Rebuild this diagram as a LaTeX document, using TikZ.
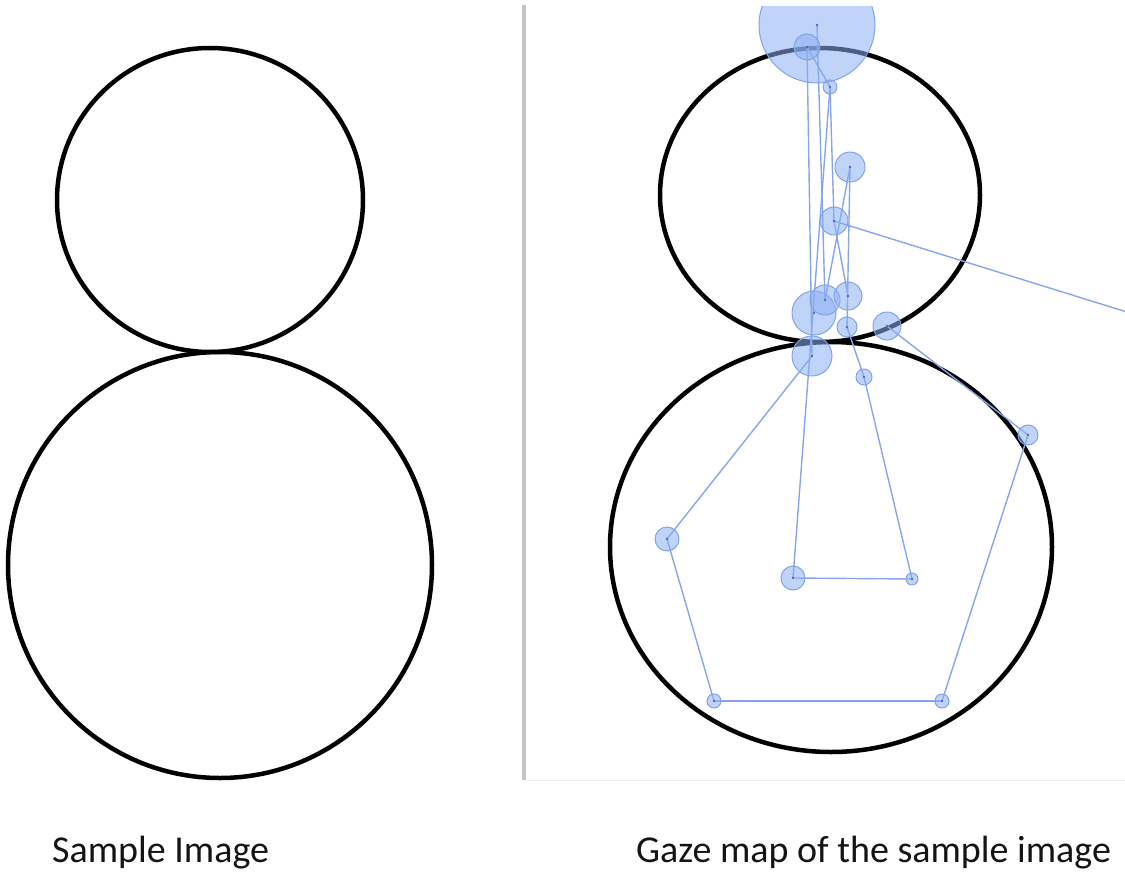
\documentclass[tikz,border=0pt]{standalone}
\usepackage{fontspec}
\setmainfont{Carlito}
\definecolor{glinec}{RGB}{135,165,235}
\definecolor{gdraw}{RGB}{130,162,234}
\definecolor{gfill}{RGB}{140,175,242}
\definecolor{gdot}{RGB}{80,105,180}
\definecolor{sepc}{RGB}{196,196,196}
\definecolor{basec}{RGB}{236,236,236}
\definecolor{textc}{RGB}{20,20,20}
\begin{document}
\begin{tikzpicture}[x=1pt,y=-1pt,
  blackc/.style={draw=black, line width=4.5pt},
  gline/.style={draw=glinec, line width=1.4pt},
  fix/.style={circle, inner sep=0pt, draw=gdraw, line width=1pt, fill=gfill, fill opacity=0.55, minimum size=#1},
  lbl/.style={font=\fontsize{38}{44}\selectfont, text=textc, anchor=base west, inner sep=0pt}
]
\useasboundingbox (0,0) rectangle (1125,873);

% left sample image
\draw[blackc] (210,200) ellipse [x radius=153, y radius=152];
\draw[blackc] (220,565) ellipse [x radius=212, y radius=213];

% separator
\draw[line width=3.5pt, sepc] (524,5) -- (524,780);
\draw[line width=1pt, basec] (526,780) -- (1125,780);

\begin{scope}
\clip (526,6) rectangle (1125,779);
\draw[blackc] (820,195) ellipse [x radius=160, y radius=147];
\draw[blackc] (831,547) ellipse [x radius=221, y radius=205];

\coordinate (c1) at (817,25);
\coordinate (c2) at (807,47);
\coordinate (c3) at (830,87);
\coordinate (c4) at (850,167);
\coordinate (c5) at (834,221);
\coordinate (c6) at (814,313);
\coordinate (c7) at (825,300);
\coordinate (c8) at (848,296);
\coordinate (c9) at (847,327);
\coordinate (c10) at (887,326);
\coordinate (c11) at (812,356);
\coordinate (c12) at (864,377);
\coordinate (c13) at (1028,435);
\coordinate (c14) at (667,539);
\coordinate (c15) at (793,578);
\coordinate (c16) at (912,579);
\coordinate (c17) at (714,701);
\coordinate (c18) at (942,701);
\coordinate (exit) at (1130,313);

% scan path
\draw[gline] (c2) -- (c3);
\draw[gline] (c2) -- (c11);
\draw[gline] (c1) -- (c7);
\draw[gline] (c3) -- (c5);
\draw[gline] (c3) -- (c15);
\draw[gline] (c4) -- (c7);
\draw[gline] (c4) -- (c9);
\draw[gline] (c5) -- (c8);
\draw[gline] (c5) -- (exit);
\draw[gline] (c9) -- (c12);
\draw[gline] (c12) -- (c16);
\draw[gline] (c16) -- (c15);
\draw[gline] (c10) -- (c13);
\draw[gline] (c13) -- (c18);
\draw[gline] (c18) -- (c17);
\draw[gline] (c17) -- (c14);
\draw[gline] (c14) -- (c11);

% fixations
\node[fix=116pt] (g1) at (c1) {};
\node[fix=26pt] (g2) at (c2) {};
\node[fix=14pt] (g3) at (c3) {};
\node[fix=30pt] (g4) at (c4) {};
\node[fix=28pt] (g5) at (c5) {};
\node[fix=44pt] (g6) at (c6) {};
\node[fix=30pt] (g7) at (c7) {};
\node[fix=28pt] (g8) at (c8) {};
\node[fix=20pt] (g9) at (c9) {};
\node[fix=28pt] (g10) at (c10) {};
\node[fix=40pt] (g11) at (c11) {};
\node[fix=16pt] (g12) at (c12) {};
\node[fix=20pt] (g13) at (c13) {};
\node[fix=24pt] (g14) at (c14) {};
\node[fix=24pt] (g15) at (c15) {};
\node[fix=12pt] (g16) at (c16) {};
\node[fix=14pt] (g17) at (c17) {};
\node[fix=14pt] (g18) at (c18) {};
\foreach \i in {1,...,18} \fill[gdot] (c\i) circle (1.3);
\end{scope}

% captions
\node[lbl] (cap1) at (52,862) {Sample Image};
\node[lbl] (cap2) at (636,862) {Gaze map of the sample image};
\end{tikzpicture}
\end{document}
